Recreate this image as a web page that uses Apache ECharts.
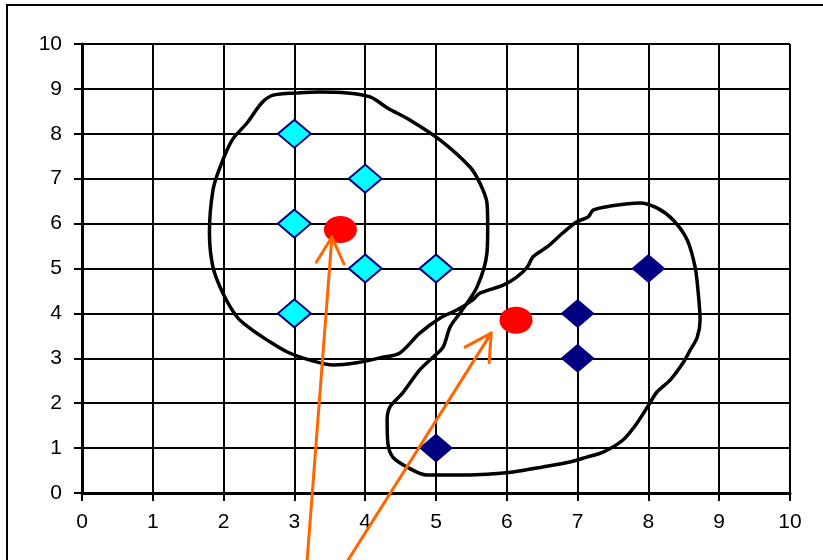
<!DOCTYPE html>
<html>
<head>
<meta charset="utf-8">
<script src="https://cdn.jsdelivr.net/npm/echarts@6/dist/echarts.min.js"></script>
<style>
html,body{margin:0;padding:0;background:#fff;}
#chart{width:823px;height:560px;}
</style>
</head>
<body>
<div id="chart"></div>
<script>
// ---- data ----
const xTicks = [0,1,2,3,4,5,6,7,8,9,10];
const yTicks = [0,1,2,3,4,5,6,7,8,9,10];
const cyanPoints = [[3,8],[4,7],[3,6],[4,5],[5,5],[3,4]];
const navyPoints = [[8,5],[7,4],[7,3],[5,1]];
const centroids = [[3.65,5.87],[6.13,3.85]];
const clusterOutline = [
  [3.04,8.91],[3.36,8.93],[3.74,8.91],[4.07,8.82],[4.32,8.57],[4.63,8.31],[5.06,7.86],
  [5.48,7.26],[5.62,6.90],[5.72,6.46],[5.73,5.92],[5.72,5.35],[5.58,4.59],[5.34,4.01],
  [5.20,3.70],[5.10,3.25],[4.96,3.03],[4.77,2.74],[4.53,2.23],[4.35,1.92],[4.31,1.63],
  [4.32,1.11],[4.39,0.80],[4.59,0.58],[4.87,0.40],[5.24,0.40],[5.72,0.42],[6.09,0.47],
  [6.51,0.58],[6.89,0.69],[7.13,0.80],[7.36,0.91],[7.64,1.18],[7.84,1.56],[8.02,2.00],
  [8.12,2.25],[8.31,2.52],[8.49,2.90],[8.59,3.18],[8.69,3.47],[8.73,3.85],[8.70,4.52],
  [8.66,5.03],[8.55,5.63],[8.35,6.08],[8.12,6.35],[7.88,6.46],[7.46,6.39],[7.22,6.30],
  [7.15,6.15],[6.99,6.04],[6.79,5.79],[6.57,5.48],[6.37,5.26],[6.29,5.03],[6.14,4.81],
  [5.95,4.63],[5.62,4.45],[5.52,4.30],[5.30,4.08],[5.06,3.90],[4.77,3.56],[4.49,3.12],
  [4.21,3.01],[3.88,2.90],[3.55,2.85],[3.22,2.96],[2.90,3.14],[2.61,3.41],[2.37,3.67],
  [2.19,3.92],[1.99,4.45],[1.85,5.03],[1.80,5.80],[1.85,6.75],[1.95,7.26],
  [2.12,7.86],[2.33,8.24],[2.54,8.69],[2.70,8.86],[3.04,8.91]
];
const arrow1Shaft = [[3.175,-1.6],[3.53,5.70]];
const arrow1Head = [[3.31,5.14],[3.53,5.70],[3.70,5.10]];
const arrow2Shaft = [[3.716,-1.6],[5.78,3.56]];
const arrow2Head = [[5.41,3.25],[5.78,3.56],[5.75,2.90]];

const FONT = "'Liberation Sans', Arial, sans-serif";
const chart = echarts.init(document.getElementById('chart'), null, {renderer:'canvas'});

function orangeLine(data){
  return {type:'line', data:data, symbol:'none', clip:false, silent:true, z:10,
    lineStyle:{color:'#FF6600', width:3, cap:'round', join:'round'}};
}

chart.setOption({
  animation:false,
  backgroundColor:'#ffffff',
  graphic:[{type:'rect', shape:{x:7, y:5, width:900, height:700},
    style:{fill:'none', stroke:'#000', lineWidth:2}, silent:true, z:-1}],
  grid:{left:82, right:33, top:44, bottom:67, containLabel:false},
  xAxis:{type:'value', min:0, max:10, interval:1,
    axisLine:{show:true, onZero:false, lineStyle:{color:'#000', width:3}},
    axisTick:{show:true, length:8, lineStyle:{color:'#000', width:2}},
    axisLabel:{color:'#000', fontSize:21, fontFamily:FONT, margin:19,
      formatter:function(v){return xTicks.indexOf(v)>=0 ? String(v) : '';}},
    splitLine:{show:true, lineStyle:{color:'#000', width:2}}
  },
  yAxis:{type:'value', min:0, max:10, interval:1,
    axisLine:{show:true, onZero:false, lineStyle:{color:'#000', width:3}},
    axisTick:{show:true, length:8, lineStyle:{color:'#000', width:2}},
    axisLabel:{color:'#000', fontSize:21, fontFamily:FONT, margin:20,
      formatter:function(v){return yTicks.indexOf(v)>=0 ? String(v) : '';}},
    splitLine:{show:true, lineStyle:{color:'#000', width:2}}
  },
  series:[
    {type:'line', data:clusterOutline, symbol:'none', smooth:0.3, silent:true, z:3,
      lineStyle:{color:'#000', width:3.5, join:'round'}},
    {type:'scatter', data:cyanPoints, symbol:'diamond', symbolSize:[33,28], z:4,
      itemStyle:{color:'#00FFFF', borderColor:'#000080', borderWidth:2, opacity:1}},
    {type:'scatter', data:navyPoints, symbol:'diamond', symbolSize:[34,29], z:4,
      itemStyle:{color:'#000080', opacity:1}},
    {type:'scatter', data:centroids, symbol:'circle', symbolSize:[33,27], z:5,
      itemStyle:{color:'#FF0000', opacity:1}},
    orangeLine(arrow1Shaft), orangeLine(arrow1Head),
    orangeLine(arrow2Shaft), orangeLine(arrow2Head)
  ]
});
</script>
</body>
</html>
